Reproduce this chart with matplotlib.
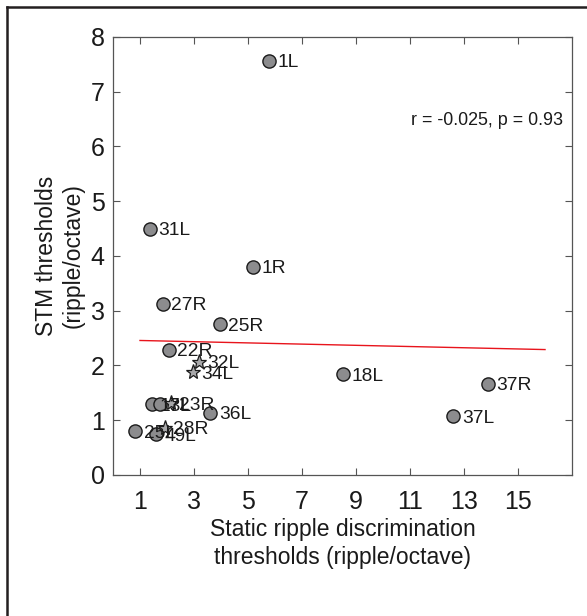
import matplotlib

matplotlib.use("Agg")
import matplotlib.pyplot as plt
from matplotlib.lines import Line2D

plt.rcParams["font.family"] = ["Liberation Sans", "DejaVu Sans"]

# circle markers (static ripple threshold, STM threshold, label)
circle_x = [5.78, 1.36, 5.18, 1.85, 3.96, 2.08, 8.51, 13.90, 12.61, 3.61, 1.43, 1.75, 0.83, 1.61]
circle_y = [7.57, 4.50, 3.80, 3.13, 2.75, 2.29, 1.84, 1.67, 1.07, 1.14, 1.29, 1.29, 0.80, 0.74]
circle_labels = ["1L", "31L", "1R", "27R", "25R", "22R", "18L", "37R", "37L", "36L",
                 "13L", "7L", "25L", "49L"]

# star markers
star_x = [3.17, 2.97, 2.13, 1.92]
star_y = [2.07, 1.88, 1.31, 0.86]
star_labels = ["32L", "34L", "23R", "28R"]

# regression line end points
fit_x = [1.0, 16.0]
fit_y = [2.456, 2.29]

stats_text = "r = -0.025, p = 0.93"

fig = plt.figure(figsize=(5.87, 6.16), dpi=100)
ax = fig.add_axes([0.1925, 0.229, 0.782, 0.711])

ax.plot(fit_x, fit_y, color="#e8141c", linewidth=1.0, zorder=2)

ax.plot(circle_x, circle_y, linestyle="none", marker="o", markersize=9.5,
        markerfacecolor="#8c8c8e", markeredgecolor="#1a1a1a", markeredgewidth=1.0, zorder=3)
ax.plot(star_x, star_y, linestyle="none", marker="*", markersize=11,
        markerfacecolor="#a8a8aa", markeredgecolor="#1a1a1a", markeredgewidth=0.9, zorder=3)

for x, y, label in zip(circle_x + star_x, circle_y + star_y, circle_labels + star_labels):
    ax.annotate(label, (x, y), xytext=(6, -1.5), textcoords="offset points",
                fontsize=13.8, va="center", ha="left", color="#1a1a1a", zorder=4)

ax.text(16.65, 6.48, stats_text, fontsize=12.9, ha="right", va="center", color="#1a1a1a")

ax.set_xlim(0, 17)
ax.set_ylim(0, 8)
ax.set_xticks([1, 3, 5, 7, 9, 11, 13, 15])
ax.set_yticks(range(0, 9))
ax.tick_params(direction="in", top=True, right=True, length=5, width=0.8,
               labelsize=18, colors="#555555", labelcolor="#1a1a1a")
ax.tick_params(axis="x", pad=11)
ax.tick_params(axis="y", pad=6)
for spine in ax.spines.values():
    spine.set_color("#555555")
    spine.set_linewidth(0.9)

ax.set_xlabel("Static ripple discrimination\nthresholds (ripple/octave)",
              fontsize=16.5, color="#1a1a1a", labelpad=3, linespacing=1.25)
ax.set_ylabel("STM thresholds\n(ripple/octave)", fontsize=16.5, color="#1a1a1a",
              labelpad=4, linespacing=1.25)

# frame line on top and left of the figure
fig.add_artist(Line2D([0.012, 0.012], [0.0, 0.988], transform=fig.transFigure,
                      color="#231f20", linewidth=1.8))
fig.add_artist(Line2D([0.012, 1.0], [0.988, 0.988], transform=fig.transFigure,
                      color="#231f20", linewidth=1.8))

fig.savefig("out.png", dpi=100)
